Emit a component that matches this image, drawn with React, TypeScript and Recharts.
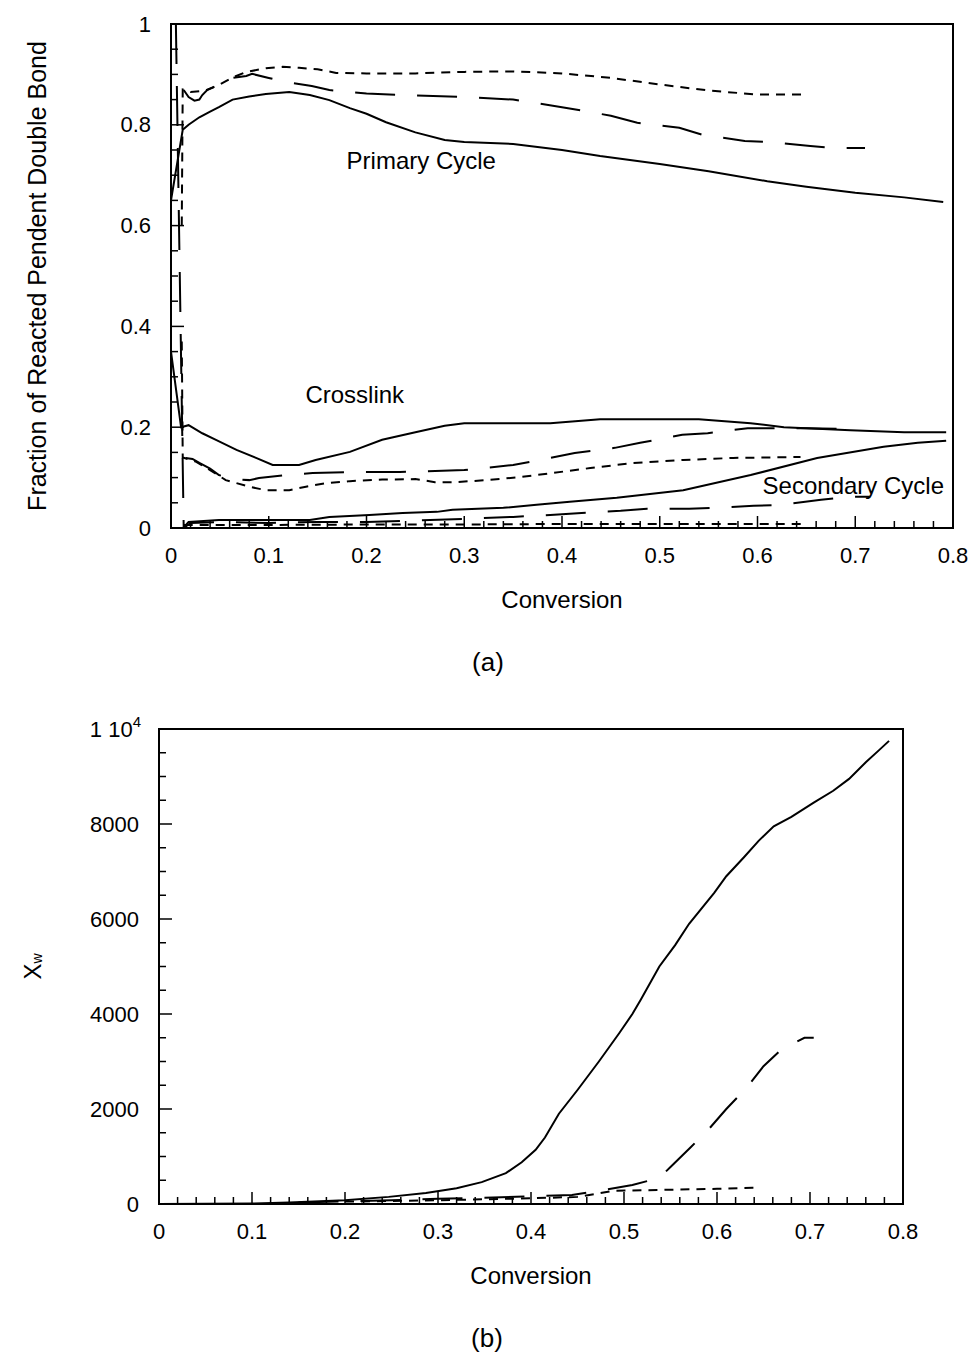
import { LineChart, Line, XAxis, YAxis, ReferenceArea, ReferenceDot } from 'recharts'

const FONT = '"Liberation Sans", Arial, Helvetica, sans-serif'

// (a) fraction of reacted pendent double bond vs conversion
const primarySolid: [number, number][] = [
  [0, 0.65], [0.012, 0.79], [0.018, 0.8], [0.029, 0.815], [0.04, 0.826], [0.049, 0.835],
  [0.063, 0.85], [0.08, 0.856], [0.097, 0.861], [0.121, 0.865], [0.142, 0.859], [0.162, 0.849],
  [0.183, 0.833], [0.2, 0.822], [0.22, 0.805], [0.25, 0.785], [0.28, 0.77], [0.3, 0.766],
  [0.35, 0.762], [0.4, 0.75], [0.439, 0.738], [0.5, 0.722], [0.55, 0.708], [0.61, 0.688],
  [0.65, 0.677], [0.7, 0.665], [0.75, 0.656], [0.79, 0.647],
]
const primaryLong: [number, number][] = [
  [0.013, 0.869], [0.018, 0.855], [0.024, 0.848], [0.029, 0.85], [0.032, 0.859], [0.037, 0.869],
  [0.049, 0.879], [0.062, 0.893], [0.077, 0.897], [0.083, 0.901], [0.1, 0.893], [0.118, 0.885],
  [0.144, 0.877], [0.162, 0.869], [0.2, 0.862], [0.25, 0.858], [0.3, 0.855], [0.35, 0.85],
  [0.4, 0.835], [0.45, 0.818], [0.477, 0.804], [0.52, 0.794], [0.544, 0.78], [0.587, 0.768],
  [0.611, 0.766], [0.654, 0.758], [0.678, 0.754], [0.71, 0.754],
]
const primaryShort: [number, number][] = [
  [0.011, 0.6], [0.012, 0.87], [0.02, 0.865], [0.035, 0.868], [0.05, 0.88], [0.062, 0.893],
  [0.077, 0.905], [0.097, 0.912], [0.114, 0.915], [0.131, 0.913], [0.15, 0.91], [0.169, 0.903],
  [0.2, 0.902], [0.25, 0.902], [0.3, 0.905], [0.35, 0.906], [0.4, 0.902], [0.45, 0.893],
  [0.5, 0.88], [0.55, 0.868], [0.6, 0.86], [0.65, 0.86],
]
const crossSolid: [number, number][] = [
  [0, 0.35], [0.0103, 0.2], [0.018, 0.204], [0.032, 0.188], [0.046, 0.175], [0.067, 0.155],
  [0.087, 0.139], [0.104, 0.125], [0.131, 0.125], [0.148, 0.135], [0.183, 0.151], [0.216, 0.175],
  [0.25, 0.19], [0.28, 0.203], [0.3, 0.208], [0.35, 0.208], [0.388, 0.208], [0.439, 0.216],
  [0.54, 0.216], [0.593, 0.208], [0.627, 0.2], [0.695, 0.194], [0.75, 0.19], [0.793, 0.19],
]
const crossLong: [number, number][] = [
  [0.015, 0.139], [0.022, 0.137], [0.029, 0.129], [0.04, 0.118], [0.049, 0.105], [0.065, 0.097],
  [0.08, 0.095], [0.09, 0.099], [0.118, 0.105], [0.145, 0.109], [0.183, 0.111], [0.234, 0.111],
  [0.3, 0.115], [0.35, 0.125], [0.388, 0.139], [0.413, 0.149], [0.454, 0.159], [0.48, 0.169],
  [0.523, 0.185], [0.549, 0.188], [0.59, 0.198], [0.65, 0.198], [0.7, 0.196],
]
const crossShort: [number, number][] = [
  [0.011, 0.37], [0.012, 0.14], [0.025, 0.132], [0.04, 0.115], [0.056, 0.095], [0.08, 0.082],
  [0.097, 0.075], [0.121, 0.075], [0.138, 0.082], [0.159, 0.089], [0.183, 0.093], [0.216, 0.096],
  [0.25, 0.097], [0.27, 0.091], [0.29, 0.091], [0.323, 0.095], [0.357, 0.101], [0.39, 0.109],
  [0.429, 0.119], [0.473, 0.129], [0.524, 0.135], [0.575, 0.139], [0.644, 0.141],
]
const secSolid: [number, number][] = [
  [0.0125, 0], [0.018, 0.012], [0.049, 0.016], [0.1, 0.016], [0.142, 0.016], [0.162, 0.022],
  [0.203, 0.026], [0.237, 0.03], [0.272, 0.032], [0.288, 0.036], [0.34, 0.04], [0.374, 0.046],
  [0.408, 0.052], [0.456, 0.06], [0.524, 0.075], [0.593, 0.105], [0.661, 0.139], [0.729, 0.161],
  [0.764, 0.169], [0.793, 0.173],
]
const secLong: [number, number][] = [
  [0.005, 1.0], [0.013, 0], [0.02, 0.01], [0.05, 0.012], [0.1, 0.01], [0.15, 0.012], [0.2, 0.012],
  [0.25, 0.015], [0.3, 0.018], [0.35, 0.022], [0.388, 0.026], [0.42, 0.03], [0.46, 0.034],
  [0.487, 0.038], [0.53, 0.038], [0.555, 0.04], [0.596, 0.044], [0.623, 0.046], [0.665, 0.056],
  [0.695, 0.062], [0.715, 0.062],
]
const secShort: [number, number][] = [
  [0.013, 0.006], [0.1, 0.006], [0.2, 0.007], [0.3, 0.007], [0.4, 0.008], [0.5, 0.008],
  [0.6, 0.008], [0.65, 0.008],
]

// (b) Xw vs conversion
const xwSolid: [number, number][] = [
  [0, 0], [0.1, 10], [0.14, 30], [0.2, 80], [0.247, 150], [0.287, 230], [0.32, 330], [0.347, 460],
  [0.373, 650], [0.39, 880], [0.405, 1140], [0.415, 1400], [0.43, 1900], [0.45, 2400],
  [0.473, 3000], [0.495, 3600], [0.509, 4000], [0.518, 4300], [0.538, 5000], [0.555, 5450],
  [0.57, 5900], [0.597, 6550], [0.61, 6900], [0.629, 7300], [0.645, 7650], [0.661, 7950],
  [0.68, 8150], [0.704, 8450], [0.725, 8700], [0.742, 8950], [0.76, 9300], [0.774, 9550],
  [0.785, 9750],
]
const xwLong: [number, number][] = [
  [0.15, 30], [0.25, 80], [0.3, 110], [0.35, 130], [0.4, 160], [0.444, 190], [0.48, 300],
  [0.509, 400], [0.538, 550], [0.55, 780], [0.572, 1200], [0.59, 1550], [0.61, 2000],
  [0.632, 2450], [0.65, 2900], [0.669, 3250], [0.694, 3500], [0.704, 3500],
]
const xwShort: [number, number][] = [
  [0.2, 50], [0.3, 80], [0.4, 120], [0.45, 150], [0.49, 280], [0.55, 300], [0.6, 320],
  [0.638, 340], [0.645, 340],
]

const convTicks = Array.from({ length: 41 }, (_, i) => (i * 2) / 100)
const convLabels = [0, 0.1, 0.2, 0.3, 0.4, 0.5, 0.6, 0.7, 0.8]
const fracTicks = Array.from({ length: 21 }, (_, i) => (i * 5) / 100)
const fracLabels = [0, 0.2, 0.4, 0.6, 0.8, 1]
const xwTicks = Array.from({ length: 21 }, (_, i) => i * 500)
const xwLabels = [0, 2000, 4000, 6000, 8000, 10000]

const pts = (arr: [number, number][]) => arr.map(([x, y]) => ({ x, y }))
const isMajor = (labels: number[], v: number) => labels.some((l) => Math.abs(l - v) < 1e-6)

const LONG = '40 22'
const SHORT = '9 7'

function BottomTick({ x, y, payload, labels }: any) {
  const major = isMajor(labels, payload.value)
  return (
    <g>
      <line x1={x} x2={x} y1={y} y2={y - (major ? 12 : 7)} stroke="#000" strokeWidth={1.5} />
      {major && (
        <text x={x} y={y + 27} textAnchor="middle" dominantBaseline="central" fontSize={22} fill="#000">
          {String(payload.value)}
        </text>
      )}
    </g>
  )
}

function LeftTick({ x, y, payload, labels }: any) {
  const major = isMajor(labels, payload.value)
  const v = payload.value
  return (
    <g>
      <line x1={x} x2={x + (major ? 13 : 7)} y1={y} y2={y} stroke="#000" strokeWidth={1.5} />
      {major && v === 10000 ? (
        <text x={x - 18} y={y + 8} textAnchor="end" fontSize={22} fill="#000">
          <tspan>1 10</tspan>
          <tspan dy={-10} fontSize={15}>4</tspan>
        </text>
      ) : major ? (
        <text x={x - 20} y={y} textAnchor="end" dominantBaseline="central" fontSize={22} fill="#000">
          {String(v)}
        </text>
      ) : null}
    </g>
  )
}

const annotation = (value: string) => ({ value, position: 'center' as const, fontSize: 24, fill: '#000' })

function ChartA() {
  return (
    <LineChart width={976} height={640} margin={{ top: 24, right: 23, bottom: 0, left: 0 }} style={{ fontFamily: FONT }}>
      <XAxis
        dataKey="x"
        type="number"
        domain={[0, 0.8]}
        ticks={convTicks}
        interval={0}
        tickSize={0}
        tickMargin={0}
        tickLine={false}
        tick={<BottomTick labels={convLabels} />}
        axisLine={{ stroke: '#000', strokeWidth: 2 }}
        height={112}
        allowDataOverflow
        label={{
          content: ({ viewBox }: any) => (
            <text x={viewBox.x + viewBox.width / 2} y={viewBox.y + 71} textAnchor="middle" dominantBaseline="central" fontSize={24} fill="#000">
              Conversion
            </text>
          ),
        }}
      />
      <YAxis
        type="number"
        domain={[0, 1]}
        ticks={fracTicks}
        interval={0}
        tickSize={0}
        tickMargin={0}
        tickLine={false}
        tick={<LeftTick labels={fracLabels} />}
        axisLine={{ stroke: '#000', strokeWidth: 2 }}
        width={171}
        allowDataOverflow
        label={{
          content: ({ viewBox }: any) => {
            const cx = 37
            const cy = viewBox.y + viewBox.height / 2
            return (
              <text x={cx} y={cy} transform={`rotate(-90 ${cx} ${cy})`} textAnchor="middle" dominantBaseline="central" fontSize={25} fill="#000">
                Fraction of Reacted Pendent Double Bond
              </text>
            )
          },
        }}
      />
      <ReferenceArea x1={0} x2={0.8} y1={0} y2={1} fill="none" stroke="#000" strokeWidth={2} />
      <Line data={pts(primarySolid)} dataKey="y" type="linear" dot={false} stroke="#000" strokeWidth={2} isAnimationActive={false} />
      <Line data={pts(primaryLong)} dataKey="y" type="linear" dot={false} stroke="#000" strokeWidth={2} strokeDasharray={LONG} isAnimationActive={false} />
      <Line data={pts(primaryShort)} dataKey="y" type="linear" dot={false} stroke="#000" strokeWidth={2} strokeDasharray={SHORT} isAnimationActive={false} />
      <Line data={pts(crossSolid)} dataKey="y" type="linear" dot={false} stroke="#000" strokeWidth={2} isAnimationActive={false} />
      <Line data={pts(crossLong)} dataKey="y" type="linear" dot={false} stroke="#000" strokeWidth={2} strokeDasharray={LONG} isAnimationActive={false} />
      <Line data={pts(crossShort)} dataKey="y" type="linear" dot={false} stroke="#000" strokeWidth={2} strokeDasharray={SHORT} isAnimationActive={false} />
      <Line data={pts(secSolid)} dataKey="y" type="linear" dot={false} stroke="#000" strokeWidth={2} isAnimationActive={false} />
      <Line data={pts(secLong)} dataKey="y" type="linear" dot={false} stroke="#000" strokeWidth={2} strokeDasharray={LONG} isAnimationActive={false} />
      <Line data={pts(secShort)} dataKey="y" type="linear" dot={false} stroke="#000" strokeWidth={2} strokeDasharray={SHORT} isAnimationActive={false} />
      <ReferenceDot x={0.256} y={0.73} r={0} stroke="none" fill="none" label={annotation('Primary Cycle')} />
      <ReferenceDot x={0.188} y={0.264} r={0} stroke="none" fill="none" label={annotation('Crosslink')} />
      <ReferenceDot x={0.698} y={0.085} r={0} stroke="none" fill="none" label={annotation('Secondary Cycle')} />
    </LineChart>
  )
}

function ChartB() {
  return (
    <LineChart width={976} height={620} margin={{ top: 39, right: 73, bottom: 0, left: 0 }} style={{ fontFamily: FONT }}>
      <XAxis
        dataKey="x"
        type="number"
        domain={[0, 0.8]}
        ticks={convTicks}
        interval={0}
        tickSize={0}
        tickMargin={0}
        tickLine={false}
        tick={<BottomTick labels={convLabels} />}
        axisLine={{ stroke: '#000', strokeWidth: 2 }}
        height={106}
        allowDataOverflow
        label={{
          content: ({ viewBox }: any) => (
            <text x={viewBox.x + viewBox.width / 2} y={viewBox.y + 71} textAnchor="middle" dominantBaseline="central" fontSize={24} fill="#000">
              Conversion
            </text>
          ),
        }}
      />
      <YAxis
        type="number"
        domain={[0, 10000]}
        ticks={xwTicks}
        interval={0}
        tickSize={0}
        tickMargin={0}
        tickLine={false}
        tick={<LeftTick labels={xwLabels} />}
        axisLine={{ stroke: '#000', strokeWidth: 2 }}
        width={159}
        allowDataOverflow
        label={{
          content: ({ viewBox }: any) => {
            const cx = 32
            const cy = viewBox.y + viewBox.height / 2
            return (
              <text x={cx} y={cy} transform={`rotate(-90 ${cx} ${cy})`} textAnchor="middle" dominantBaseline="central" fontSize={24} fill="#000">
                <tspan>X</tspan>
                <tspan dy={5} fontSize={14}>w</tspan>
              </text>
            )
          },
        }}
      />
      <ReferenceArea x1={0} x2={0.8} y1={0} y2={10000} fill="none" stroke="#000" strokeWidth={2} />
      <Line data={pts(xwSolid)} dataKey="y" type="linear" dot={false} stroke="#000" strokeWidth={2} isAnimationActive={false} />
      <Line data={pts(xwLong)} dataKey="y" type="linear" dot={false} stroke="#000" strokeWidth={2} strokeDasharray={LONG} isAnimationActive={false} />
      <Line data={pts(xwShort)} dataKey="y" type="linear" dot={false} stroke="#000" strokeWidth={2} strokeDasharray={SHORT} isAnimationActive={false} />
    </LineChart>
  )
}

const panelLabel = { position: 'absolute' as const, fontFamily: FONT, fontSize: 26, color: '#000', width: 60, textAlign: 'center' as const, lineHeight: '30px' }

export default function App() {
  return (
    <div style={{ position: 'absolute', left: 0, top: 0, width: 976, height: 1352, background: '#fff' }}>
      <div style={{ position: 'absolute', left: 0, top: 0 }}>
        <ChartA />
      </div>
      <div style={{ ...panelLabel, left: 458, top: 647 }}>(a)</div>
      <div style={{ position: 'absolute', left: 0, top: 690 }}>
        <ChartB />
      </div>
      <div style={{ ...panelLabel, left: 457, top: 1323 }}>(b)</div>
    </div>
  )
}
